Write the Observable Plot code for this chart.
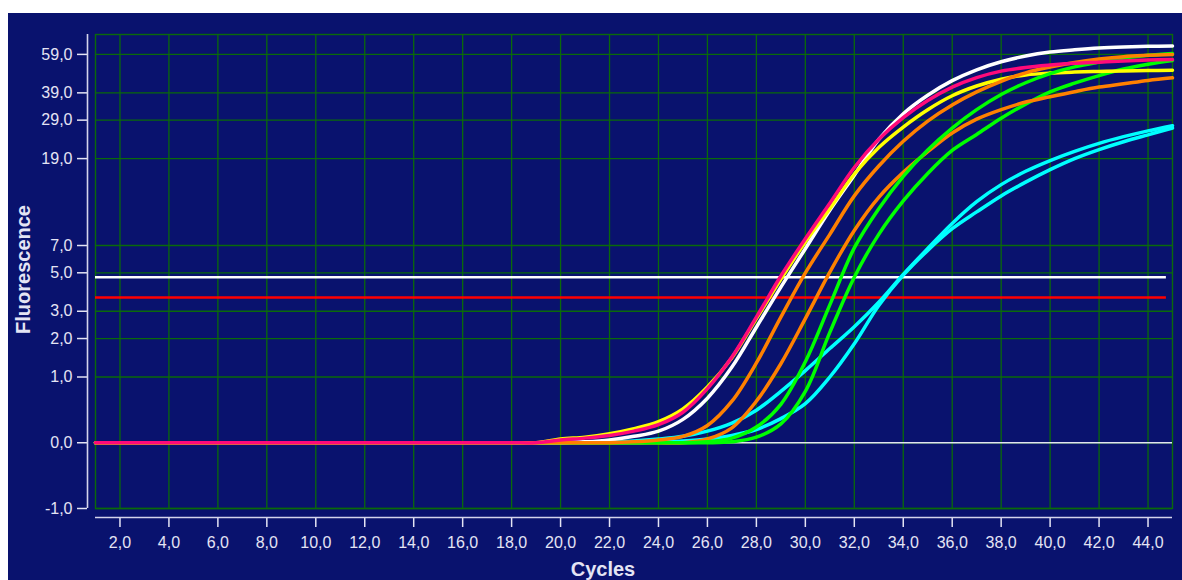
<!DOCTYPE html>
<html><head><meta charset="utf-8">
<script src="https://cdn.jsdelivr.net/npm/d3@7"></script>
<script src="https://cdn.jsdelivr.net/npm/@observablehq/plot@0.6"></script>
<style>
html,body{margin:0;padding:0;background:#fff;overflow:hidden;width:1182px;height:580px;}
#chart{position:absolute;left:8px;top:13px;}
</style></head><body><div id="chart"></div>
<script>
const cycles = [1,2,3,4,5,6,7,8,9,10,11,12,13,14,15,16,17,18,19,20,21,22,23,24,25,26,27,28,29,30,31,32,33,34,35,36,37,38,39,40,41,42,43,44,45];
const xTicks = [2,4,6,8,10,12,14,16,18,20,22,24,26,28,30,32,34,36,38,40,42,44];
const yTicks = [-1,0,1,2,3,5,7,19,29,39,59];

const cyanB = [0,0,0,0,0,0,0,0,0,0,0,0,0,0,0,0,0,0,0,0,0,0,0,
  0.01,0.02,0.04,0.08,0.15,0.29,0.51,1.0,1.84,3.25,4.85,6.6,8.55,10.4,12.5,14.6,16.8,19.0,21.0,22.9,24.7,26.6];
const cyanA = [0,0,0,0,0,0,0,0,0,0,0,0,0,0,0,0,0,0,0,0,0,
  0.01,0.02,0.04,0.07,0.13,0.23,0.41,0.72,1.14,1.7,2.4,3.4,4.9,6.75,9.1,11.7,14.2,16.5,18.6,20.6,22.5,24.2,25.8,27.3];
const green2 = [0,0,0,0,0,0,0,0,0,0,0,0,0,0,0,0,0,0,0,0,0,0,0,0,0,0,
  0.01,0.06,0.22,0.72,2.2,4.73,8.0,11.8,16.1,20.8,24.8,29.6,34.5,39.4,43.3,47.0,50.4,53.1,55.3];
const orange2 = [0,0,0,0,0,0,0,0,0,0,0,0,0,0,0,0,0,0,0,0,0,0,0,0,0,
  0.04,0.17,0.55,1.3,2.7,5.04,8.38,12.3,16.3,20.5,25.2,29.3,32.5,35.3,37.4,39.5,41.5,43.0,44.6,45.9];
const white = [0,0,0,0,0,0,0,0,0,0,0,0,0,0,0,0,0,0,0,0,
  0.01,0.03,0.07,0.13,0.28,0.6,1.22,2.38,4.16,6.73,10.6,15.8,23.5,31.1,38.0,44.5,50.0,54.5,58.0,60.5,62.0,63.2,63.9,64.3,64.5];
const yellow = [0,0,0,0,0,0,0,0,0,0,0,0,0,0,0,0,0,0,0,
  0.04,0.06,0.1,0.16,0.25,0.43,0.8,1.45,2.7,4.6,7.3,10.8,16.0,21.5,26.9,32.5,37.8,42.0,45.2,47.3,48.3,48.8,49.1,49.4,49.6,49.8];
const green1 = [0,0,0,0,0,0,0,0,0,0,0,0,0,0,0,0,0,0,0,0,0,0,0,0,0,
  0.01,0.05,0.18,0.5,1.35,3.28,6.8,10.8,15.6,20.9,26.6,32.5,38.3,43.5,48.0,51.6,54.3,56.7,58.4,59.6];
const orange1 = [0,0,0,0,0,0,0,0,0,0,0,0,0,0,0,0,0,0,0,0,0,0,
  0.01,0.03,0.07,0.2,0.55,1.32,2.76,4.99,8.0,12.5,17.5,23.0,28.7,34.2,39.4,44.2,48.4,51.5,54.1,56.1,57.6,58.4,59.0];
const pink = [0,0,0,0,0,0,0,0,0,0,0,0,0,0,0,0,0,0,0,
  0.03,0.05,0.08,0.13,0.21,0.38,0.77,1.47,2.76,4.8,7.6,11.5,17.2,23.5,29.8,35.9,41.5,46.0,49.3,51.3,52.6,53.6,54.3,55.0,55.5,55.8];

const thresholds = [4.73, 3.63];
const thresholdEnd = 44.75;

const seriesNames = ["cyanB","cyanA","green2","orange2","white","yellow","green1","orange1","pink"];
const seriesValues = [cyanB, cyanA, green2, orange2, white, yellow, green1, orange1, pink];
const seriesColors = {cyanB:"#00ffff", cyanA:"#00ffff", green2:"#00ff00", orange2:"#ff8000", white:"#ffffff", yellow:"#ffff00", green1:"#00ff00", orange1:"#ff8000", pink:"#ff0a7a"};
const thresholdColors = ["#ffffff", "#ff0000"];

const data = seriesNames.flatMap((name, k) => seriesValues[k].map((v, i) => ({series: name, cycle: cycles[i], value: v})));
const thrData = thresholds.map((v, i) => ({value: v, color: thresholdColors[i]}));

const NAVY = "#09126e", GRID = "#0a6a0a", AXIS = "#d4d4ec", LABEL = "#e4e4f4";
const fmt = d => d.toFixed(1).replace(".", ",");

const chart = Plot.plot({
  width: 1174, height: 567,
  marginLeft: 87, marginRight: 10, marginTop: 21, marginBottom: 72,
  style: {background: NAVY, fontFamily: "'Liberation Sans', Arial, sans-serif", fontSize: "16px", color: LABEL},
  x: {domain: [1, 45], axis: null},
  y: {type: "symlog", constant: 1, domain: [-1, 73], axis: null},
  color: {type: "identity"},
  marks: [
    Plot.gridX(xTicks, {stroke: GRID, strokeOpacity: 1, strokeWidth: 1.3}),
    Plot.gridY(yTicks, {stroke: GRID, strokeOpacity: 1, strokeWidth: 1.3}),
    Plot.frame({stroke: GRID, strokeWidth: 1.4}),
    Plot.ruleY([0], {stroke: "#e2e2f2", strokeWidth: 1.3}),
    Plot.ruleY(thrData, {y: "value", x1: cycles[0], x2: thresholdEnd, stroke: "color", strokeWidth: 2.5}),
    Plot.line(data, {x: "cycle", y: "value", z: "series", stroke: d => seriesColors[d.series], strokeWidth: 3.5, curve: "catmull-rom"}),
    Plot.axisX({ticks: xTicks, tickFormat: fmt, dy: 9, tickSize: 10, tickPadding: 9, color: LABEL, strokeWidth: 1.5, label: null, fontSize: 16}),
    Plot.axisY({ticks: yTicks, tickFormat: fmt, dx: -8, tickSize: 10, tickPadding: 5, color: LABEL, strokeWidth: 1.5, label: null, fontSize: 16}),
    Plot.ruleY([yTicks[0]], {dy: 9, stroke: AXIS, strokeWidth: 1.6}),
    Plot.ruleX([cycles[0]], {dx: -8, stroke: AXIS, strokeWidth: 1.6}),
    Plot.text(["Cycles"], {text: d => d, frameAnchor: "bottom", lineAnchor: "middle", textAnchor: "middle", dy: 61, dx: -31, fontWeight: "bold", fontSize: 20, fill: LABEL}),
    Plot.text(["Fluorescence"], {text: d => d, frameAnchor: "left", lineAnchor: "middle", textAnchor: "middle", rotate: -90, dx: -72, dy: -2, fontWeight: "bold", fontSize: 20, fill: LABEL})
  ]
});
document.getElementById("chart").appendChild(chart);
</script></body></html>
